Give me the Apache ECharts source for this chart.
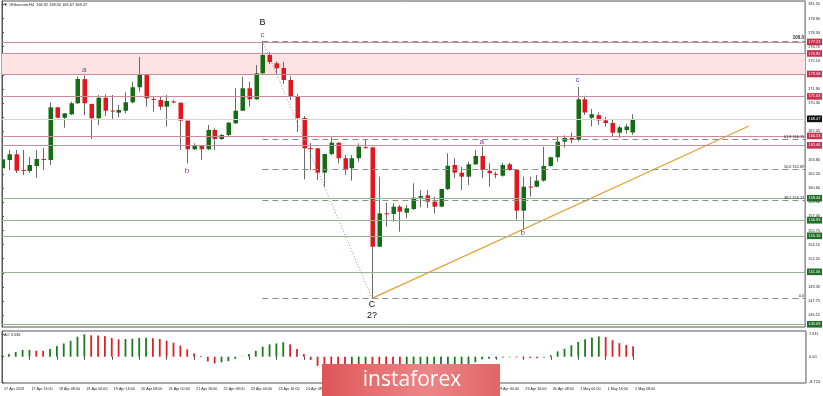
<!DOCTYPE html>
<html><head><meta charset="utf-8">
<script src="https://cdn.jsdelivr.net/npm/echarts@6/dist/echarts.min.js"></script>
<style>html,body{margin:0;padding:0;background:#fff}#c{width:823px;height:396px}</style>
</head><body><div id="c"></div>
<script>
// ---------- DATA ----------
const symbolTitle = '#Ethereum,H4  166.92 169.00 166.67 168.47';
const aoTitle = 'AO 3.536';
const timeLabels = ['17 Apr 2019','17 Apr 16:00','18 Apr 08:00','19 Apr 00:00','19 Apr 16:00','20 Apr 08:00','21 Apr 00:00','21 Apr 16:00','22 Apr 08:00','23 Apr 00:00','23 Apr 16:00','24 Apr 08:00','25 Apr 00:00','25 Apr 16:00','26 Apr 08:00','27 Apr 00:00','27 Apr 16:00','28 Apr 08:00','29 Apr 00:00','29 Apr 16:00','30 Apr 08:00','1 May 00:00','1 May 16:00','2 May 08:00'];
const opens  = [162.85,163.79,164.44,162.66,162.54,163.11,163.90,163.79,169.79,168.60,168.99,170.25,173.00,170.17,168.54,170.88,169.42,169.18,169.40,170.36,172.07,173.47,170.74,170.62,169.86,170.45,170.31,168.27,165.01,165.39,165.01,167.21,166.18,166.64,167.97,169.40,171.95,170.70,173.66,175.74,174.80,174.26,172.90,171.08,168.57,165.14,165.12,162.35,164.47,165.76,163.99,162.85,163.99,165.25,165.23,153.92,157.72,157.65,158.48,157.79,158.21,159.50,159.77,159.05,158.48,160.49,163.22,162.35,161.89,163.30,164.25,162.57,162.22,162.00,163.30,162.65,158.02,160.77,160.75,161.44,163.11,164.10,165.88,166.30,166.10,170.70,168.60,168.90,168.30,168.00,166.90,167.20,166.92];
const highs  = [164.13,164.93,164.93,164.93,164.13,164.93,165.16,170.31,169.85,169.15,170.43,173.30,173.40,170.20,171.19,171.27,171.19,170.05,171.50,172.71,175.52,173.50,171.00,171.00,171.19,170.62,170.35,168.30,165.69,165.50,167.78,167.40,166.75,168.08,171.95,173.27,172.71,174.60,177.35,176.08,175.00,174.95,173.35,171.30,168.80,165.73,165.15,164.50,166.38,165.80,164.36,164.36,165.69,166.07,165.30,161.89,158.93,158.86,158.67,158.67,161.14,160.38,160.38,159.62,160.52,164.55,163.99,163.03,163.60,164.93,165.31,163.42,162.46,163.49,163.49,162.70,161.89,161.89,162.08,165.31,164.17,166.44,166.60,166.90,172.10,171.10,169.60,169.20,168.70,168.40,167.70,167.90,169.00];
const lows   = [162.65,162.65,162.31,162.08,162.31,161.74,162.65,163.22,168.55,167.47,168.91,170.17,168.91,166.18,167.78,168.80,168.35,168.65,169.10,170.25,171.57,169.86,169.29,169.48,167.58,170.25,164.93,163.42,164.93,163.79,164.93,164.93,166.07,166.38,167.89,169.38,169.86,170.65,173.60,174.72,173.47,172.44,170.62,166.98,161.59,162.65,161.52,160.75,164.36,163.42,162.08,161.44,163.60,165.12,148.03,153.90,156.20,156.77,155.63,157.16,158.10,158.41,158.33,157.72,158.41,160.38,161.71,160.38,160.95,163.22,161.71,160.75,161.71,161.89,162.57,157.04,155.82,159.62,160.68,161.32,163.03,163.60,165.20,165.70,165.90,168.90,167.60,167.80,167.60,166.40,166.30,166.80,166.67];
const closes = [163.87,164.44,162.57,162.63,163.22,163.91,163.86,169.79,168.60,169.10,170.25,173.01,170.25,168.54,170.88,169.40,169.40,169.48,170.36,172.07,173.47,170.81,170.72,169.86,170.51,170.40,168.27,165.01,165.50,165.01,167.21,166.18,166.64,168.04,169.40,171.95,170.70,173.66,175.74,174.95,174.23,172.90,171.08,168.57,165.12,165.10,162.35,164.47,165.76,163.99,162.77,163.99,165.31,165.23,153.92,157.72,157.68,158.48,157.91,158.29,159.50,159.69,159.05,158.48,160.49,163.14,162.35,161.89,163.30,164.25,162.65,162.28,162.18,163.22,162.65,158.02,160.75,160.73,161.44,163.11,164.10,165.88,166.30,166.10,170.70,169.20,169.00,168.30,168.00,166.90,167.50,167.60,168.47];
const aoValues = [0.3,0.9,1.6,2.27,2.3,2.04,2.0,2.6,3.6,4.5,5.4,6.8,7.611,7.25,7.2,7.0,6.35,5.9,6.0,6.1,6.35,6.4,6.25,6.0,5.45,4.75,3.75,2.5,1.1,0.2,-1.6,-2.3,-1.9,-1.5,-0.7,0.1,0.9,2.0,3.4,4.2,4.5,4.9,4.2,2.6,0.9,-1.1,-3.1,-3.6,-4.1,-4.3,-4.4,-4.2,-4.0,-3.9,-5.2,-6.5,-7.6,-8.4,-8.724,-8.5,-8.1,-7.6,-7.0,-6.4,-5.8,-5.0,-4.3,-3.6,-2.8,-1.9,-0.9,-0.7,-0.5,-0.3,-0.2,-0.25,-0.35,-0.45,-0.5,-0.3,0.5,1.8,2.7,3.9,5.0,5.9,6.5,6.9,6.7,5.6,4.6,4.0,3.536];
const priceTicks = [181.55,179.90,178.30,176.70,175.10,173.45,171.90,170.30,168.65,167.05,165.45,163.80,162.20,160.60,159.00,157.40,155.75,154.15,152.55,150.95,149.35,147.75,146.15];
const aoTicks = [7.611, 0, -8.724];
const aoTickLabels = ['7.611', '0.00', '-8.724'];
const resistanceLevels = [177.23, 175.92, 173.58, 171.03, 166.53, 165.46];
const supportLevels = [159.44, 156.93, 155.16, 151.06, 145.09];
const bidPrice = 168.47;
const zoneTop = 175.92, zoneBottom = 173.58;
const fibHigh = 177.35, fibLow = 148.03, fibStartIndex = 38;
const fibRatios = [0, 38.2, 50, 61.8, 100];
const waveB = [38, 177.35], waveC = [54, 148.03];
const trendStart = [54, 148.03], trendEnd = [109, 167.66];
const waveLabels = [
  {t:'B', i:38, v:179.39, c:'#111', s:9},
  {t:'c', i:38, v:178.02, c:'#7d3c98', s:8},
  {t:'a', i:12, v:174.04, c:'#7d3c98', s:8},
  {t:'b', i:27, v:162.54, c:'#7d3c98', s:8},
  {t:'C', i:54, v:147.29, c:'#111', s:9},
  {t:'2?', i:54, v:146.04, c:'#111', s:9},
  {t:'a', i:70, v:165.84, c:'#7d3c98', s:8},
  {t:'b', i:76, v:155.48, c:'#7d3c98', s:8},
  {t:'c', i:84, v:172.90, c:'#7d3c98', s:8}
];

// ---------- CHART ----------
const X_MAX = 117.2;
const FONT = 'Liberation Sans';
const chart = echarts.init(document.getElementById('c'), null, {renderer: 'canvas'});
const candleData = opens.map((o, i) => [i, o, closes[i], lows[i], highs[i]]);
const aoData = aoValues.map((v, i) => ({
  value: [i, v],
  itemStyle: {color: (i > 0 && v < aoValues[i - 1]) ? '#d8232a' : '#1e7a1e'}
}));
const tickIdx = timeLabels.map((_, k) => k * 4);
const fibVal = r => fibLow + (fibHigh - fibLow) * r / 100;

const levelLines = [];
resistanceLevels.forEach(v => levelLines.push({yAxis: v, lineStyle: {color: '#c98c9c', width: 1, type: 'solid'}}));
supportLevels.forEach(v => levelLines.push({yAxis: v, lineStyle: {color: '#93b593', width: 1, type: 'solid'}}));
levelLines.push({yAxis: bidPrice, lineStyle: {color: '#d4d4d4', width: 1, type: 'solid'}});
const fibLines = fibRatios.map(r => {
  const v = fibVal(r);
  const txt = (r === 0 || r === 100) ? r.toFixed(1) : r.toFixed(1) + ' ' + v.toFixed(2);
  return [
    {coord: [fibStartIndex, v], lineStyle: {color: '#8c8c8c', width: 1.2, type: [6, 4]},
     label: {show: true, position: 'insideEndTop', formatter: txt, fontSize: r === 100 ? 4.5 : 3.8,
             fontWeight: r === 100 ? 'bold' : 'normal', color: '#222', fontFamily: FONT, distance: [1, 0.5]}},
    {coord: [X_MAX, v]}
  ];
});

chart.setOption({
  animation: false,
  backgroundColor: '#ffffff',
  grid: [
    {left: 2, right: 17, top: 1, height: 326, show: true, borderColor: '#555', borderWidth: 1, backgroundColor: 'transparent'},
    {left: 2, right: 17, top: 331, height: 52, show: true, borderColor: '#555', borderWidth: 1, backgroundColor: 'transparent'}
  ],
  xAxis: [
    {type: 'value', gridIndex: 0, min: 0, max: X_MAX, show: false},
    {type: 'value', gridIndex: 1, min: 0, max: X_MAX, position: 'bottom',
     axisLine: {show: false}, splitLine: {show: false},
     axisTick: {show: true, customValues: tickIdx, length: 3, lineStyle: {color: '#444'}},
     axisLabel: {show: true, customValues: tickIdx, formatter: v => timeLabels[Math.round(v / 4)] || '',
                 fontSize: 3.7, color: '#222', fontFamily: FONT, align: 'left', margin: 4, padding: [0, 0, 0, 2]}}
  ],
  yAxis: [
    {type: 'value', gridIndex: 0, position: 'right', min: 144.78, max: 181.89, scale: true,
     axisLine: {show: true, lineStyle: {color: '#555'}}, splitLine: {show: false},
     axisTick: {show: true, customValues: priceTicks, length: 2, lineStyle: {color: '#555'}},
     axisLabel: {customValues: priceTicks, formatter: v => v.toFixed(2), fontSize: 3.9, color: '#222', fontFamily: FONT, margin: 3}},
    {type: 'value', gridIndex: 1, position: 'right', min: -8.93, max: 8.73,
     axisLine: {show: true, lineStyle: {color: '#555'}}, splitLine: {show: false},
     axisTick: {show: true, customValues: aoTicks, length: 2, lineStyle: {color: '#555'}},
     axisLabel: {customValues: aoTicks, formatter: v => aoTickLabels[aoTicks.indexOf(v)] ?? v.toFixed(2), fontSize: 3.9, color: '#222', fontFamily: FONT, margin: 3}}
  ],
  series: [
    {type: 'line', xAxisIndex: 0, yAxisIndex: 0, data: [], z: 1, silent: true,
     markArea: {silent: true, itemStyle: {color: '#fde3e3'}, data: [[{yAxis: zoneTop}, {yAxis: zoneBottom}]]},
     markLine: {silent: true, symbol: ['none', 'none'], label: {show: false}, animation: false, data: levelLines.concat(fibLines)}},
    {type: 'line', xAxisIndex: 0, yAxisIndex: 0, data: [waveB, waveC], z: 2, symbol: 'none', silent: true,
     lineStyle: {color: '#c48080', width: 1, type: [1, 2]}},
    {type: 'custom', xAxisIndex: 0, yAxisIndex: 0, z: 3, clip: true, data: candleData,
     encode: {x: 0, y: [1, 2, 3, 4]},
     renderItem: (params, api) => {
       const i = api.value(0), o = api.value(1), c = api.value(2), l = api.value(3), h = api.value(4);
       const pO = api.coord([i, o]), pC = api.coord([i, c]), pL = api.coord([i, l]), pH = api.coord([i, h]);
       const x = Math.round(pO[0]);
       const top = Math.min(pO[1], pC[1]), bot = Math.max(pO[1], pC[1]);
       const bull = c >= o;
       return {type: 'group', children: [
         {type: 'line', shape: {x1: x + 0.5, y1: pH[1], x2: x + 0.5, y2: pL[1]}, style: {stroke: '#6a6a6a', lineWidth: 1}},
         {type: 'rect', shape: {x: x - 1.5, y: top, width: 4.5, height: Math.max(1, bot - top)},
          style: {fill: bull ? '#146c14' : '#e3161d'}}
       ]};
     }},
    {type: 'line', xAxisIndex: 0, yAxisIndex: 0, data: [trendStart, trendEnd], z: 4, symbol: 'none', silent: true,
     lineStyle: {color: '#e3a237', width: 1.3}},
    {type: 'bar', xAxisIndex: 1, yAxisIndex: 1, data: aoData, barWidth: 1.8, silent: true}
  ]
});

// ---------- overlays positioned via the chart's scales ----------
const toPx = (i, v) => chart.convertToPixel({gridIndex: 0}, [i, v]);
const g = [];
function axisBox(v, fill) {
  const y = toPx(0, v)[1];
  g.push({type: 'rect', z: 100, shape: {x: 807, y: y - 3.3, width: 15, height: 6.6}, style: {fill: fill}});
  g.push({type: 'text', z: 101, x: 808.5, y: y, style: {text: v.toFixed(2), fill: '#fff', fontSize: 3.9, fontFamily: FONT, verticalAlign: 'middle', align: 'left'}});
}
resistanceLevels.forEach(v => axisBox(v, '#c8324f'));
supportLevels.forEach(v => axisBox(v, '#1f6e25'));
axisBox(bidPrice, '#111111');
waveLabels.forEach(w => {
  const p = toPx(w.i, w.v);
  g.push({type: 'text', z: 60, x: p[0], y: p[1], style: {text: w.t, fill: w.c, fontSize: w.s, fontFamily: FONT, align: 'center', verticalAlign: 'middle'}});
});
g.push({type: 'polygon', z: 60, shape: {points: [[4, 3.5], [7, 3.5], [5.5, 6]]}, style: {fill: '#222'}});
g.push({type: 'text', z: 60, x: 9, y: 5, style: {text: symbolTitle, fill: '#222', fontSize: 3.9, fontFamily: FONT, verticalAlign: 'middle'}});
g.push({type: 'text', z: 60, x: 4, y: 335, style: {text: aoTitle, fill: '#222', fontSize: 3.9, fontFamily: FONT, verticalAlign: 'middle'}});
// instaforex watermark
g.push({type: 'rect', z: 120, shape: {x: 322, y: 364, width: 178, height: 32},
  style: {fill: new echarts.graphic.LinearGradient(0, 0, 1, 0, [
    {offset: 0, color: '#dd5558'}, {offset: 0.25, color: '#e56c6e'}, {offset: 0.6, color: '#ec8587'}, {offset: 1, color: '#e26466'}])}});
g.push({type: 'text', z: 121, x: 412, y: 380, style: {text: 'instaforex', fill: '#ffffff', fontSize: 21, fontFamily: 'Open Sans', align: 'center', verticalAlign: 'middle'}});
chart.setOption({graphic: g});
</script>
</body></html>
